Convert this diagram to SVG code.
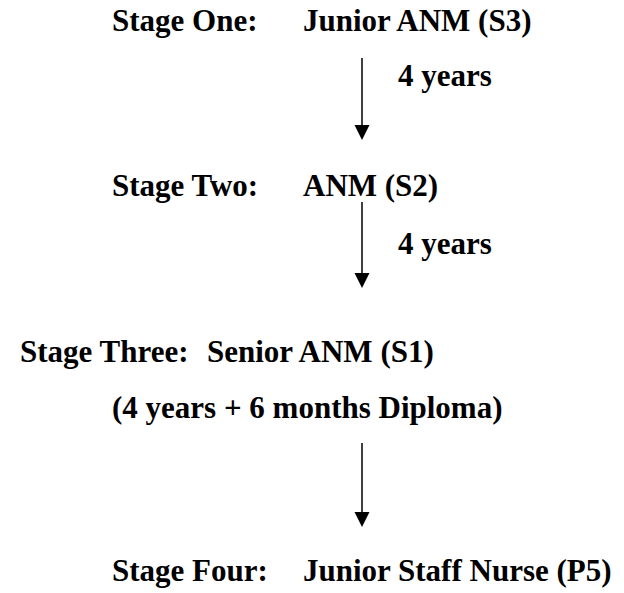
<svg xmlns="http://www.w3.org/2000/svg" width="624" height="593" viewBox="0 0 624 593">
<defs>
<style>
.t{font-family:'Liberation Serif','DejaVu Serif',serif;font-weight:bold;font-size:31px;fill:#000}
.c line{stroke:#000;stroke-width:1.5;fill:none}
.c path{fill:#000;stroke:none}
</style>
</defs>
<rect width="624" height="593" fill="#fff"/>
<g id="stage1" class="t" font-family="Liberation Serif, serif"><text x="112" y="31">Stage One:</text><text x="303" y="31">Junior ANM (S3)</text></g>
<g id="stage2" class="t" font-family="Liberation Serif, serif"><text x="112" y="196">Stage Two:</text><text x="303" y="196">ANM (S2)</text></g>
<g id="stage3" class="t" font-family="Liberation Serif, serif"><text x="20" y="362">Stage Three:</text><text x="207" y="362">Senior ANM (S1)</text><text x="112" y="418">(4 years + 6 months Diploma)</text></g>
<g id="stage4" class="t" font-family="Liberation Serif, serif"><text x="112" y="581">Stage Four:</text><text x="303" y="581">Junior Staff Nurse (P5)</text></g>
<g class="c" id="connectors">
<line x1="362" y1="58" x2="362" y2="126"/><path d="M354.5,125 L369.5,125 L362,140 Z"/>
<text class="t" x="398" y="86">4 years</text>
<line x1="362" y1="202" x2="362" y2="274"/><path d="M354.5,273 L369.5,273 L362,288 Z"/>
<text class="t" x="398" y="254">4 years</text>
<line x1="362" y1="443" x2="362" y2="513"/><path d="M354.5,512 L369.5,512 L362,527 Z"/>
</g>
</svg>
